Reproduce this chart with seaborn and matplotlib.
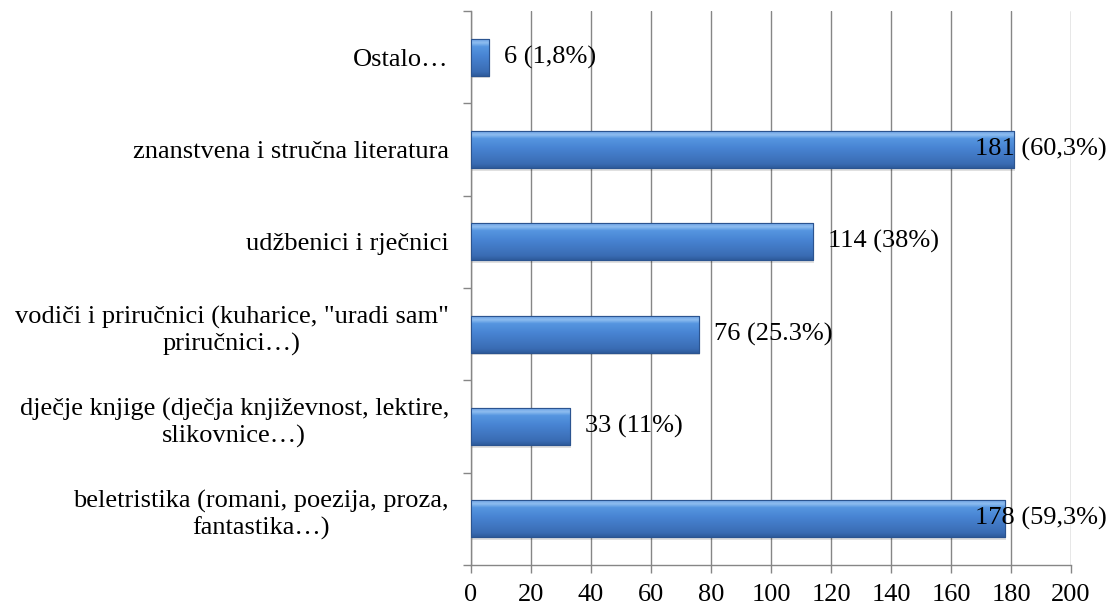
import numpy as np
import pandas as pd
import matplotlib
matplotlib.use("Agg")
import matplotlib.pyplot as plt
import matplotlib.transforms as mtransforms
import seaborn as sns
from matplotlib.colors import LinearSegmentedColormap

categories = [
    "Ostalo…",
    "znanstvena i stručna literatura",
    "udžbenici i rječnici",
    "vodiči i priručnici (kuharice, \"uradi sam\"\npriručnici…)",
    "dječje knjige (dječja književnost, lektire,\nslikovnice…)",
    "beletristika (romani, poezija, proza,\nfantastika…)",
]
counts = [6, 181, 114, 76, 33, 178]
value_labels = ["6 (1,8%)", "181 (60,3%)", "114 (38%)", "76 (25.3%)", "33 (11%)", "178 (59,3%)"]
x_ticks = [0, 20, 40, 60, 80, 100, 120, 140, 160, 180, 200]

df = pd.DataFrame({"cat": categories, "n": counts})

sns.set_theme(style="white")
plt.rcParams["font.family"] = ["Liberation Serif", "DejaVu Serif"]
FS = 19

fig = plt.figure(figsize=(11.14, 6.10), dpi=100)
ax = fig.add_axes([471 / 1114, 1 - 565 / 610, 600 / 1114, (565 - 11) / 610])

sns.barplot(data=df, x="n", y="cat", orient="h", ax=ax, color="#4A80CF",
            width=0.40, edgecolor="#2B5490", linewidth=0.8, zorder=3)

ax.set_xlim(0, 200)
ax.set_ylim(len(categories) - 0.5, -0.5)

# gradient fill for bars (bevel look)
grad_cmap = LinearSegmentedColormap.from_list(
    "bevel", [(0.0, "#2E5B9B"), (0.12, "#3A6CB4"), (0.55, "#4884D3"),
              (0.80, "#5696E0"), (0.90, "#8EBDF0"), (1.0, "#6CA0E4")])
grad = np.linspace(0, 1, 256).reshape(-1, 1)
for p in ax.patches:
    x0, y0 = p.get_x(), p.get_y()
    w, h = p.get_width(), p.get_height()
    im = ax.imshow(grad, cmap=grad_cmap, aspect="auto",
                   extent=[x0, x0 + w, y0 + h, y0], origin="lower", zorder=3.5)
    im.set_clip_path(p)
    ax.add_patch(plt.Rectangle((x0 + 0.4, y0 + 0.03), w, h, facecolor="#000000",
                               alpha=0.12, zorder=2.5, edgecolor="none"))
    ax.add_patch(plt.Rectangle((x0, y0), w, h, facecolor="none",
                               edgecolor="#2B5490", linewidth=0.8, zorder=3.6))

# grid & axes
ax.set_xticks(x_ticks)
ax.set_xticklabels([str(t) for t in x_ticks], fontsize=FS, color="black")
ax.xaxis.grid(True, color="#868686", linewidth=1.0, zorder=0)
ax.yaxis.grid(False)
for s in ["top", "right"]:
    ax.spines[s].set_visible(False)
for s in ["left", "bottom"]:
    ax.spines[s].set_color("#868686")
    ax.spines[s].set_linewidth(1.0)

bounds = np.arange(-0.5, len(categories), 1.0)
ax.set_yticks(bounds)
ax.set_yticklabels([""] * len(bounds))
ax.set_yticks(np.arange(len(categories)), minor=True)
ax.set_yticklabels(categories, minor=True, fontsize=FS, color="black",
                   multialignment="center", linespacing=1.2)
ax.tick_params(axis="y", which="minor", length=0, pad=16)
ax.tick_params(axis="y", which="major", length=6, width=1, color="#868686",
               direction="out", left=True)
ax.tick_params(axis="x", which="major", length=6, width=1, color="#868686",
               direction="out", bottom=True, pad=8)
ax.set_xlabel("")
ax.set_ylabel("")

# multi-line category labels sit slightly higher (as in the original)
lift = mtransforms.ScaledTranslation(0, 8 / 100, fig.dpi_scale_trans)
for lbl in ax.get_yticklabels(minor=True):
    if "\n" in lbl.get_text():
        lbl.set_transform(lbl.get_transform() + lift)

# value labels
texts = []
for i, (v, lab) in enumerate(zip(counts, value_labels)):
    t = ax.annotate(lab, xy=(v, i), xytext=(11, 0), textcoords="offset points",
                    ha="left", va="center", fontsize=FS, color="black",
                    zorder=5, annotation_clip=False)
    texts.append(t)

fig.canvas.draw()
renderer = fig.canvas.get_renderer()
limit_px = 1107
for t in texts:
    bb = t.get_window_extent(renderer)
    if bb.x1 > limit_px:
        shift_pts = (bb.x1 - limit_px) * 72 / fig.dpi
        t.set_position((11 - shift_pts, 0))

fig.savefig("out.png", dpi=100, facecolor="white")
